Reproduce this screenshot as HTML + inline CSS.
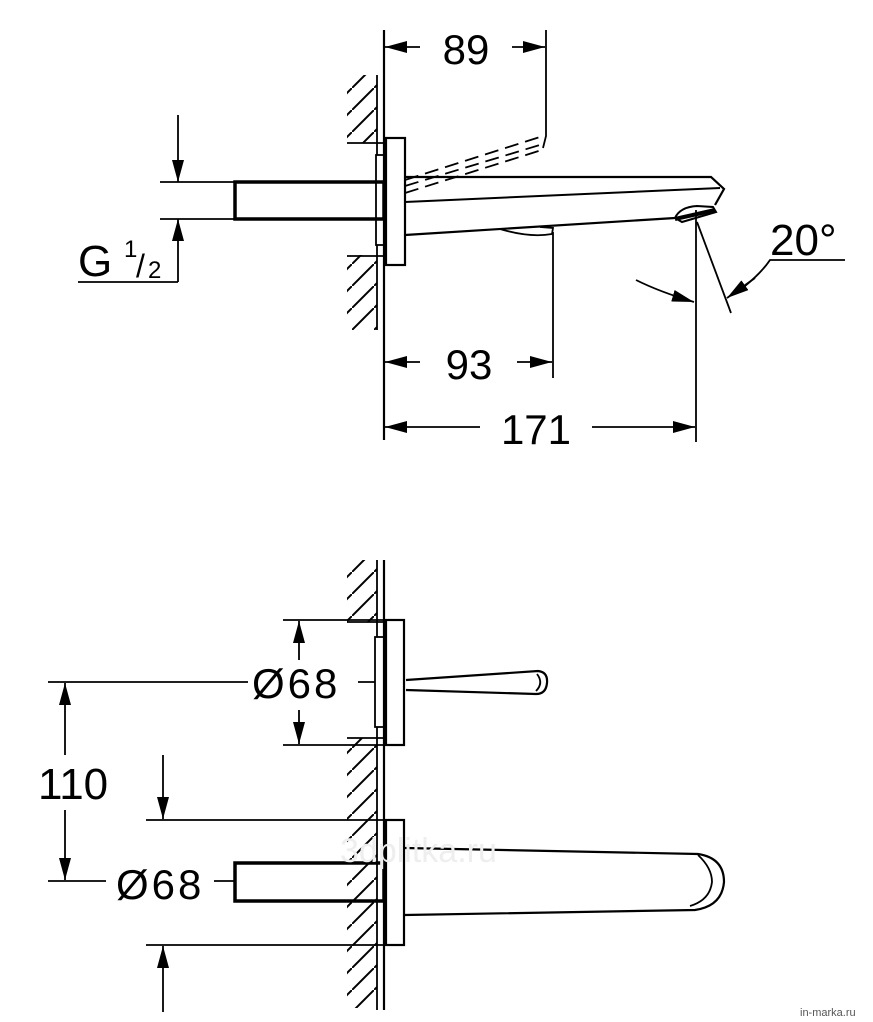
<!DOCTYPE html>
<html><head><meta charset="utf-8"><style>html,body{margin:0;padding:0;background:#fff}svg{display:block}</style></head>
<body>
<svg width="873" height="1022" viewBox="0 0 873 1022" xmlns="http://www.w3.org/2000/svg">
<defs>
<pattern id="h" width="22" height="22" patternUnits="userSpaceOnUse">
<path d="M-2 24 L24 -2" stroke="#000" stroke-width="2"/>
</pattern>
<marker id="a" markerWidth="22" markerHeight="12" refX="22" refY="6" orient="auto" markerUnits="userSpaceOnUse" viewBox="0 0 22 12">
<path d="M0 0 L22 6 L0 12Z" fill="#000"/></marker>
</defs>
<g fill="none" stroke="#000" stroke-width="1.8" font-family="Liberation Sans, sans-serif">
<!-- TOP VIEW hatching -->
<rect x="347" y="75" width="30" height="68" fill="url(#h)" stroke="none"/>
<rect x="347" y="255" width="30" height="75" fill="url(#h)" stroke="none"/>
<line x1="377" y1="75" x2="377" y2="155"/><line x1="377" y1="245" x2="377" y2="330"/>
<line x1="384" y1="30" x2="384" y2="440" stroke-width="2.2"/>
<line x1="347" y1="143" x2="386" y2="143"/><line x1="347" y1="256" x2="386" y2="256"/>
<rect x="386" y="138" width="19" height="127" stroke-width="2.2"/>
<rect x="376" y="155" width="9" height="90"/>
<rect x="235" y="182" width="149" height="37" stroke-width="3.5"/>
<!-- spout -->
<path d="M405 177 L711 177 L724 189 L715 205" stroke-width="2.2"/>
<path d="M405 202 L720 188" stroke-width="2"/>
<path d="M405 235 L675 218" stroke-width="2.2"/>
<path d="M675 218 Q680 207 697 206 L713 207 L716 212 L682 222 Z" stroke-width="2"/>
<path d="M675 219 L715 210" stroke-width="4"/>
<path d="M500 229 Q530 238 552 234 L553 228 L540 227" stroke-width="1.8"/>
<g stroke-dasharray="14 7">
<path d="M405 180 L543 136"/><path d="M405 186 L543 144"/><path d="M405 193 L545 149"/>
</g>
<path d="M546 30 L546 136 L543 148" />
<!-- dims top -->
<line x1="178" y1="115" x2="178" y2="182" marker-end="url(#a)"/>
<line x1="178" y1="282" x2="178" y2="219" marker-end="url(#a)"/>
<line x1="160" y1="182" x2="234" y2="182"/><line x1="160" y1="219" x2="234" y2="219"/>
<line x1="78" y1="282" x2="178" y2="282"/>
<line x1="420" y1="47" x2="385" y2="47" marker-end="url(#a)"/>
<line x1="512" y1="47" x2="545" y2="47" marker-end="url(#a)"/>
<line x1="553" y1="232" x2="553" y2="378"/>
<line x1="420" y1="362" x2="385" y2="362" marker-end="url(#a)"/>
<line x1="517" y1="362" x2="552" y2="362" marker-end="url(#a)"/>
<line x1="696" y1="210" x2="696" y2="442"/>
<line x1="480" y1="427" x2="385" y2="427" marker-end="url(#a)"/>
<line x1="592" y1="427" x2="695" y2="427" marker-end="url(#a)"/>
<line x1="697" y1="222" x2="731" y2="313"/>
<path d="M636 280 Q660 292 694 302" marker-end="url(#a)"/>
<path d="M845 260 L770 260 Q762 272 745 286" /><line x1="755" y1="278" x2="727" y2="298" marker-end="url(#a)"/>
</g>
<g font-family="Liberation Sans, sans-serif" fill="#000">
<text x="466" y="64" font-size="42" text-anchor="middle">89</text>
<text x="469" y="379" font-size="42" text-anchor="middle">93</text>
<text x="536" y="444" font-size="42" text-anchor="middle">171</text>
<text x="770" y="255" font-size="44">20°</text>
<text x="78" y="276" font-size="44">G</text>
<text x="124" y="257" font-size="24">1</text>
<text x="136" y="277" font-size="32">/</text>
<text x="148" y="278" font-size="24">2</text>
</g>
<!-- BOTTOM VIEW -->
<g fill="none" stroke="#000" stroke-width="1.8">
<rect x="347" y="560" width="30" height="62" fill="url(#h)" stroke="none"/>
<rect x="347" y="738" width="30" height="270" fill="url(#h)" stroke="none"/>
<line x1="377" y1="560" x2="377" y2="637"/><line x1="377" y1="727" x2="377" y2="1010"/>
<line x1="384" y1="560" x2="384" y2="1010" stroke-width="2.2"/>
<line x1="347" y1="622" x2="384" y2="622"/><line x1="347" y1="738" x2="384" y2="738"/>
<rect x="386" y="620" width="18" height="125" stroke-width="2.2"/>
<rect x="375" y="637" width="9" height="90"/>
<path d="M406 680 L538 671 Q548 672 547 683 Q546 694 536 694 L406 690" stroke-width="2.2"/>
<path d="M537 674 Q544 683 536 691"/>
<line x1="283" y1="620" x2="384" y2="620"/><line x1="283" y1="745" x2="384" y2="745"/>
<line x1="299" y1="660" x2="299" y2="621" marker-end="url(#a)"/>
<line x1="299" y1="710" x2="299" y2="744" marker-end="url(#a)"/>
<line x1="48" y1="682" x2="248" y2="682"/><line x1="358" y1="682" x2="375" y2="682"/>
<line x1="65" y1="755" x2="65" y2="683" marker-end="url(#a)"/>
<line x1="65" y1="810" x2="65" y2="880" marker-end="url(#a)"/>
<line x1="48" y1="881" x2="106" y2="881"/><line x1="214" y1="881" x2="234" y2="881"/>
<rect x="386" y="820" width="18" height="125" stroke-width="2.2"/>
<line x1="146" y1="820" x2="384" y2="820"/><line x1="146" y1="945" x2="384" y2="945"/>
<line x1="163" y1="755" x2="163" y2="819" marker-end="url(#a)"/>
<line x1="163" y1="1012" x2="163" y2="946" marker-end="url(#a)"/>
<rect x="235" y="863" width="149" height="38" stroke-width="3.5"/>
<path d="M405 848 L698 854 Q724 858 724 882 Q722 906 695 910 L405 915" stroke-width="2.2"/>
<path d="M698 855 Q712 868 712 882 Q710 900 690 906"/>
</g>
<g font-family="Liberation Sans, sans-serif" fill="#000">
<text x="252" y="698" font-size="42" letter-spacing="3">Ø68</text>
<text x="38" y="799" font-size="44">110</text>
<text x="116" y="899" font-size="42" letter-spacing="3">Ø68</text>
<text x="340" y="862" font-size="34" fill="#eee">3dplitka.ru</text>
<text x="800" y="1016" font-size="11" fill="#555">in-marka.ru</text>
</g>
</svg>
</body></html>
